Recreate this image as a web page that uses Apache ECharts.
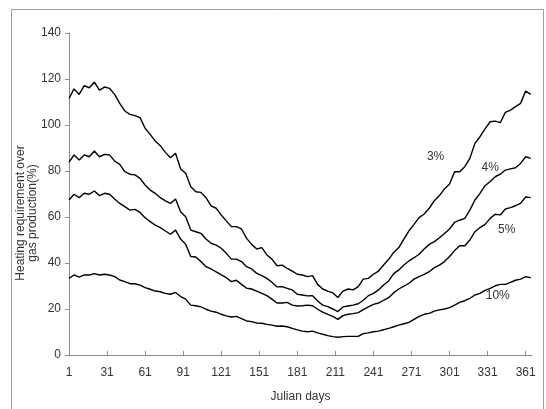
<!DOCTYPE html>
<html>
<head>
<meta charset="utf-8">
<script src="https://cdn.jsdelivr.net/npm/echarts@6/dist/echarts.min.js"></script>
<style>
html,body{margin:0;padding:0;background:#fff;}
#chart{width:546px;height:409px;}
</style>
</head>
<body>
<div id="chart"></div>
<script>
// Julian days sampled (x values)
const days = [1,5,9,13,17,21,25,29,33,37,41,45,49,53,57,61,65,69,73,77,81,85,89,93,97,101,105,109,113,117,121,125,129,133,137,141,145,149,153,157,161,165,169,173,177,181,185,189,193,197,201,205,209,213,217,221,225,229,233,237,241,245,249,253,257,261,265,269,273,277,281,285,289,293,297,301,305,309,313,317,321,325,329,333,337,341,345,349,353,357,361,365];
const tickDays = [1,31,61,91,121,151,181,211,241,271,301,331,361];
const seriesNames = ['3%','4%','5%','10%'];
const s3 = [111.6,115.7,113.3,117.1,116.2,118.6,115.2,116.5,115.9,113.3,109.4,106.1,104.6,104.1,103.2,98.6,95.9,93.0,91.0,88.1,85.8,87.7,80.9,79.0,73.2,71.0,70.7,68.4,64.8,63.8,60.9,58.3,55.8,55.8,54.8,50.7,48.1,46.1,46.7,43.5,41.7,38.8,39.1,37.7,36.5,35.1,34.8,34.1,34.5,30.7,28.7,27.8,27.0,25.0,27.8,28.7,28.3,29.7,33.0,33.3,35.1,36.5,39.1,41.6,44.6,46.7,50.4,54.0,56.8,59.7,61.3,63.8,67.1,69.3,72.2,74.3,79.7,79.7,81.9,85.5,92.0,94.9,98.3,101.4,101.7,101.0,105.5,106.5,108.0,109.4,114.8,113.3];
const s4 = [83.8,87.0,84.8,87.0,86.2,88.7,86.2,87.2,87.0,84.3,82.9,79.7,78.6,78.3,76.8,73.9,71.7,70.3,68.4,67.0,65.9,67.8,62.3,60.1,54.3,53.6,52.9,50.4,48.6,47.8,46.4,44.2,41.7,41.7,40.6,38.4,37.4,35.5,34.5,33.3,31.6,29.6,29.7,29.0,28.3,26.4,26.1,25.7,25.8,23.5,21.7,21.0,20.0,18.9,20.9,21.3,21.7,22.3,23.8,25.8,26.8,28.3,30.4,32.2,35.4,37.0,39.1,40.9,42.3,43.8,46.1,48.1,49.3,51.0,52.8,54.8,57.7,58.6,59.4,63.0,67.4,70.3,73.6,75.4,77.5,78.6,80.4,80.9,81.4,83.3,86.2,85.5];
const s5 = [67.4,69.9,68.4,70.3,69.9,71.3,69.3,70.3,69.9,67.8,65.9,64.5,63.0,63.3,62.0,59.7,58.0,56.5,55.4,53.9,52.5,54.3,50.4,48.1,42.8,42.6,40.6,38.4,37.4,36.1,34.8,33.6,31.9,32.5,30.7,29.0,28.7,27.8,26.8,25.8,24.3,22.6,22.6,22.9,21.7,21.3,21.4,21.7,21.4,19.9,18.6,17.7,16.8,15.5,17.1,17.7,18.0,18.4,19.7,20.9,22.0,22.6,23.8,24.9,27.1,28.7,29.9,31.2,33.0,34.1,35.1,36.2,38.0,39.1,40.6,42.8,45.4,47.5,47.5,50.0,53.6,55.4,56.8,59.4,61.2,60.9,63.5,64.1,64.9,65.9,68.7,68.4];
const s10 = [33.3,34.8,33.9,34.8,34.8,35.4,34.8,35.1,34.8,34.1,32.6,31.9,31.0,31.0,30.4,29.3,28.6,27.8,27.5,26.8,26.4,27.2,25.4,24.3,21.7,21.4,20.9,19.9,19.1,18.6,17.7,17.0,16.5,16.8,15.8,14.8,14.5,13.9,13.8,13.3,13.0,12.5,12.6,12.3,11.6,10.9,10.4,10.1,10.4,9.6,9.0,8.4,8.0,7.7,8.0,8.1,8.1,8.1,9.3,9.6,10.1,10.4,11.0,11.6,12.3,13.0,13.6,14.2,15.5,16.8,17.7,18.1,19.1,19.6,20.0,20.6,21.7,22.9,23.6,24.6,26.1,26.8,28.1,29.0,30.1,30.7,30.7,31.6,32.5,33.0,34.1,33.6];
// label anchors [julian day, value]
const labelDays = [290, 333, 346, 339];
const labelVals = [86.1, 81.4, 54.3, 25.8];

const values = [s3, s4, s5, s10];
const FONT = '"Liberation Sans", Arial, sans-serif';
const TXT = '#333';
const AX = '#8c8c8c';

const chart = echarts.init(document.getElementById('chart'), null, {renderer:'canvas'});
const series = values.map((vals, k) => ({
  name: seriesNames[k],
  type: 'line',
  data: days.map((d, i) => [d - 1, vals[i]]),
  showSymbol: false,
  symbol: 'none',
  lineStyle: {color: '#000', width: 1.4},
  silent: true,
  animation: false,
  markPoint: {
    symbol: 'circle', symbolSize: 0,
    label: {show: true, formatter: seriesNames[k], color: TXT, fontSize: 12, fontFamily: FONT, position: 'inside'},
    data: [{coord: [labelDays[k] - 1, labelVals[k]]}]
  }
}));

chart.setOption({
  animation: false,
  backgroundColor: '#fff',
  grid: {left: 69, right: 14, top: 33, bottom: 54, containLabel: false},
  xAxis: {
    type: 'value', min: 0, max: 365, interval: 30,
    axisLine: {show: true, lineStyle: {color: AX, width: 1}},
    axisTick: {show: true, inside: true, length: 4, lineStyle: {color: AX}, customValues: tickDays.map(d => d - 1)},
    axisLabel: {color: TXT, fontSize: 12, fontFamily: FONT, margin: 12, customValues: tickDays.map(d => d - 1), formatter: v => String(v + 1)},
    splitLine: {show: false},
    name: 'Julian days', nameLocation: 'middle', nameGap: 36,
    nameTextStyle: {color: TXT, fontSize: 12, fontFamily: FONT}
  },
  yAxis: {
    type: 'value', min: 0, max: 140, interval: 20,
    axisLine: {show: true, lineStyle: {color: AX, width: 1}},
    axisTick: {show: true, inside: false, length: 4, lineStyle: {color: AX}},
    axisLabel: {color: TXT, fontSize: 12, fontFamily: FONT, margin: 8},
    splitLine: {show: false}
  },
  graphic: [
    {type: 'rect', shape: {x: 11.5, y: 9.5, width: 532, height: 430}, style: {fill: 'none', stroke: '#a0a0a0', lineWidth: 1}, silent: true, z: -10},
    {type: 'text', x: 27, y: 213, rotation: Math.PI / 2,
     style: {text: 'Heating requirement over\ngas production(%)', fill: TXT, fontSize: 12, fontFamily: FONT, align: 'center', verticalAlign: 'middle', lineHeight: 12}}
  ],
  series: series
});
</script>
</body>
</html>
